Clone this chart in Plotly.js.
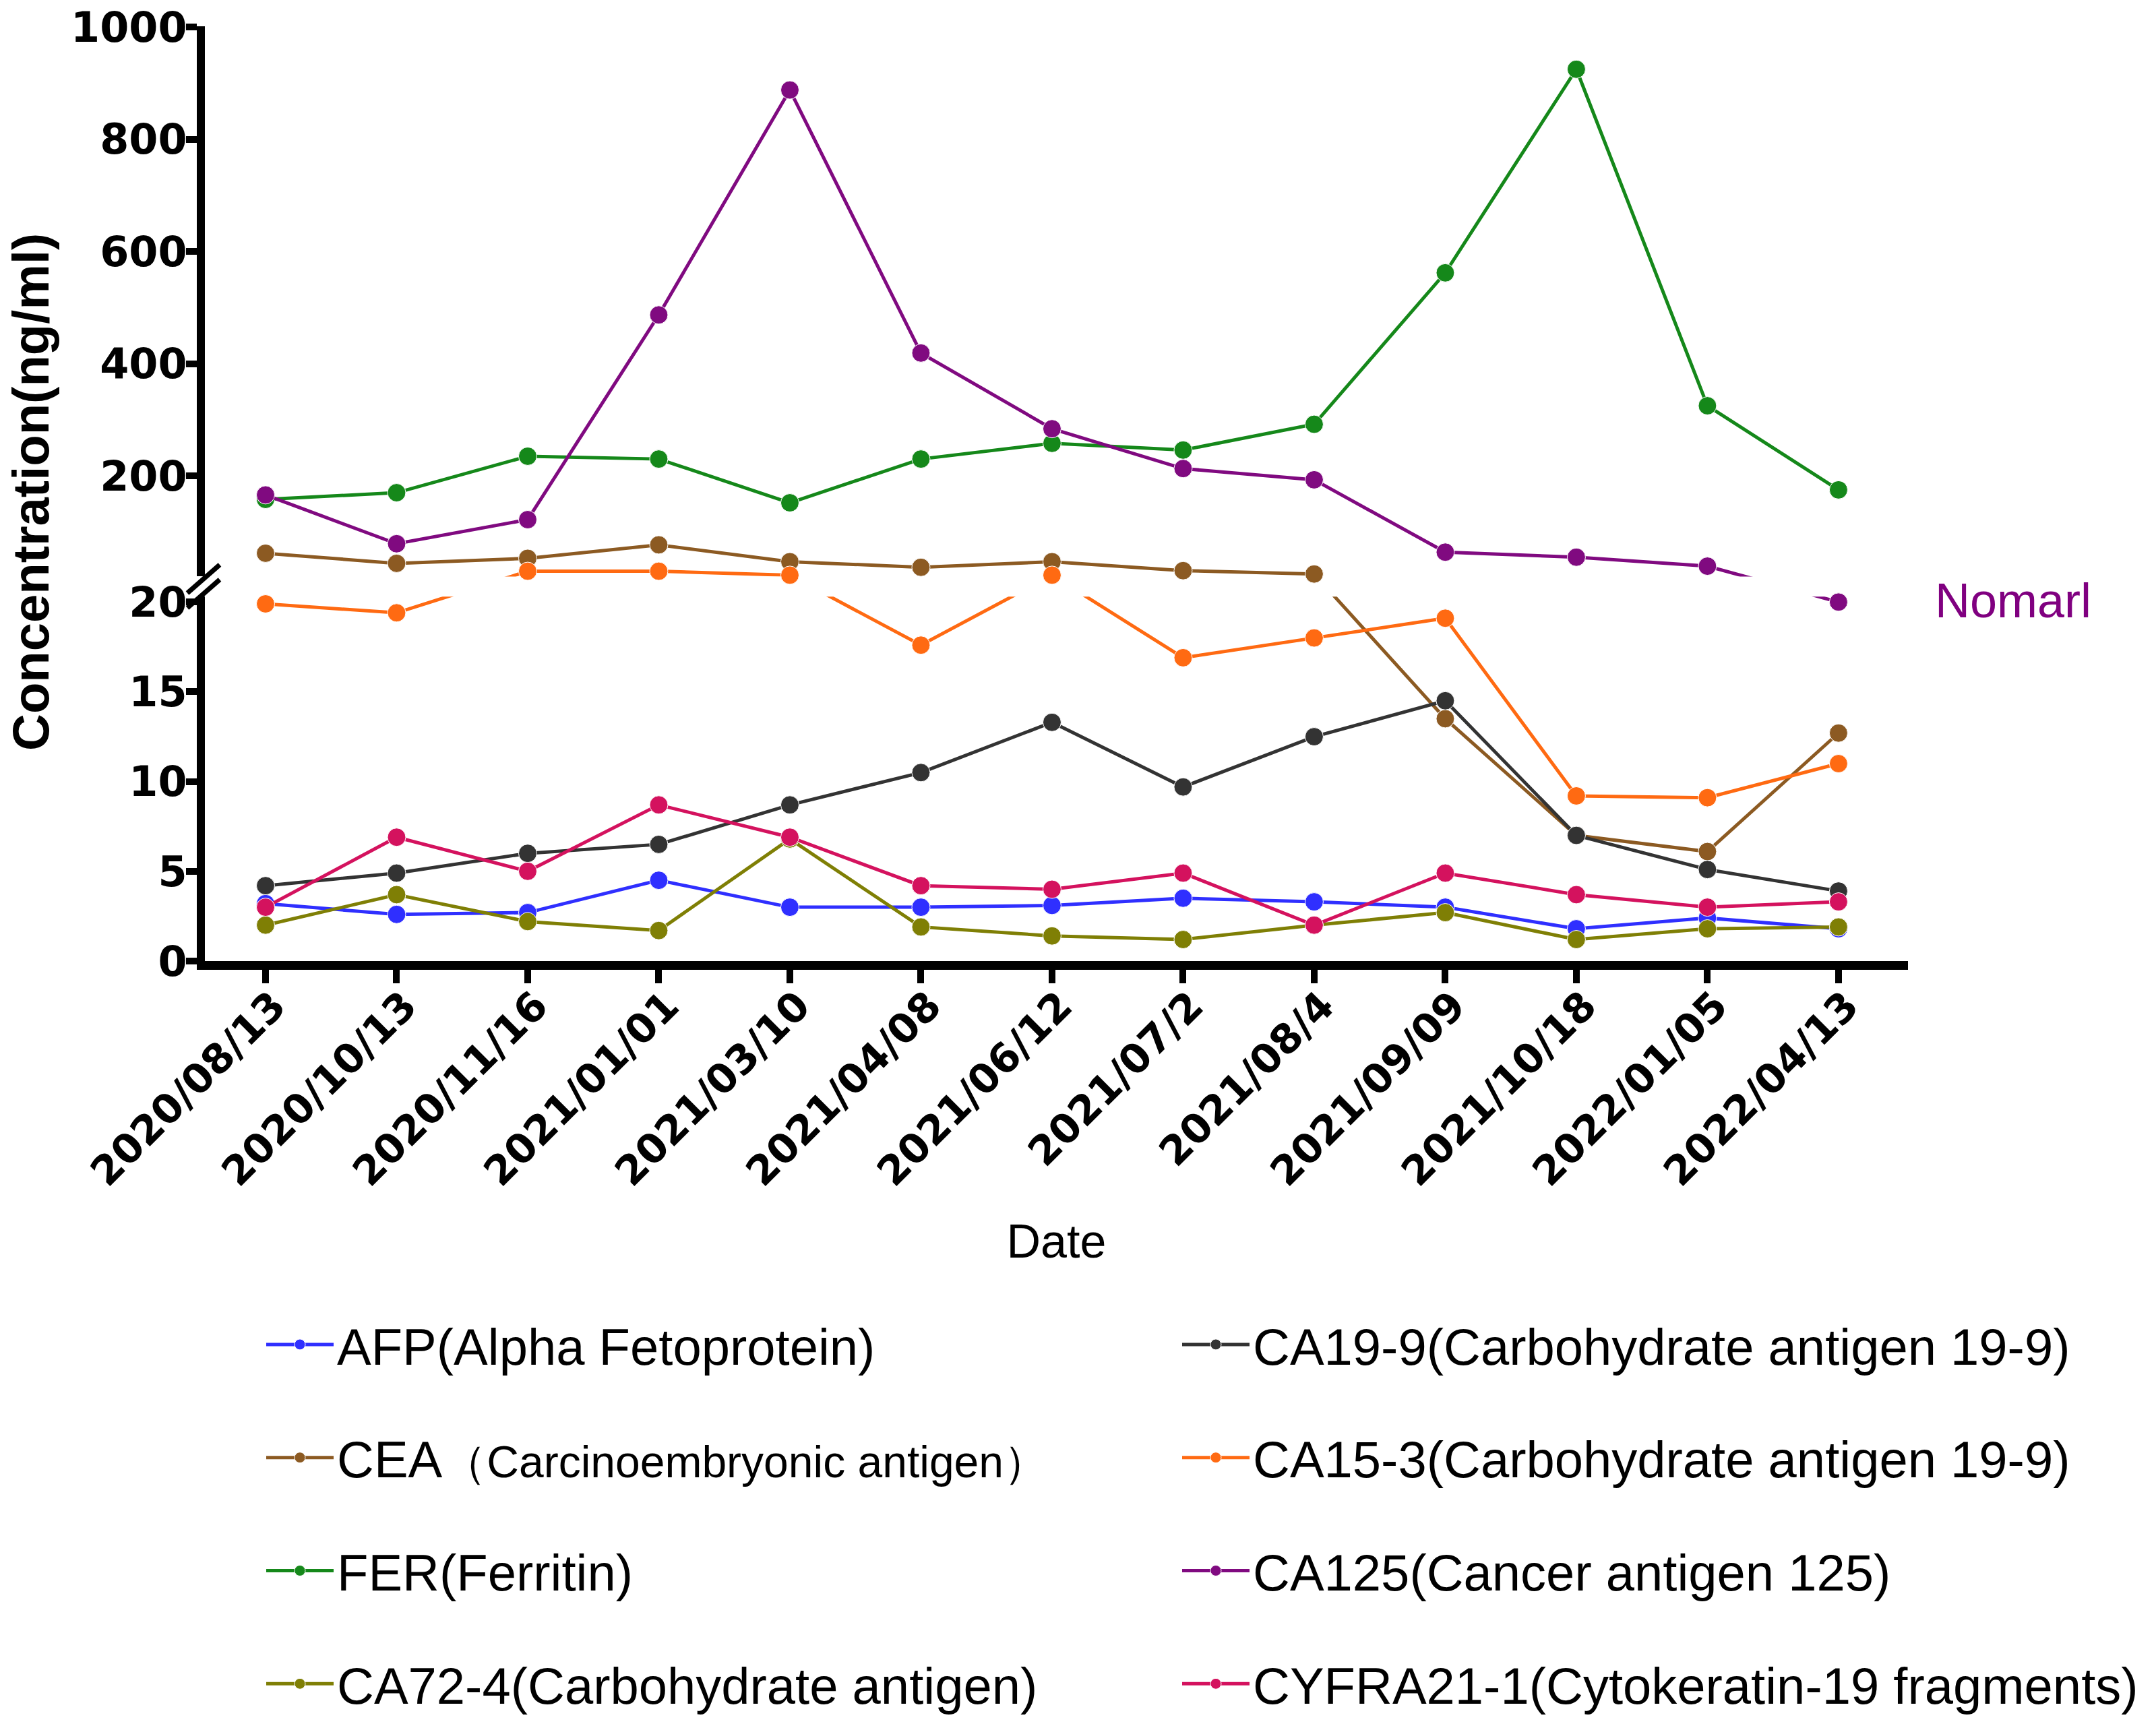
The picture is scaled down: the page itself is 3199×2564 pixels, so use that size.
<!DOCTYPE html>
<html>
<head>
<meta charset="utf-8">
<script src="https://cdn.plot.ly/plotly-3.0.1.min.js"></script>
<style>
html,body{margin:0;padding:0;background:#ffffff;}
#chart{width:3199px;height:2564px;}
</style>
</head>
<body>
<div id="chart"></div>
<script>
// ---------------- data ----------------
const dates = ['2020/08/13','2020/10/13','2020/11/16','2021/01/01','2021/03/10','2021/04/08',
               '2021/06/12','2021/07/2','2021/08/4','2021/09/09','2021/10/18','2022/01/05','2022/04/13'];

const AFP   = [3.2, 2.6, 2.7, 4.5, 3.0, 3.0, 3.1, 3.5, 3.3, 3.0, 1.8, 2.4, 1.8];
const CEA   = [62, 44, 53, 77, 47, 37, 47, 31, 25, 13.5, 7.0, 6.1, 12.7];
const FER   = [158, 170, 235, 230, 152, 230, 258, 246, 292, 562, 925, 325, 175];
const CA724 = [2.0, 3.7, 2.2, 1.7, 6.8, 1.9, 1.4, 1.2, 2.0, 2.7, 1.2, 1.8, 1.9];
const CA199 = [4.2, 4.9, 6.0, 6.5, 8.7, 10.5, 13.3, 9.7, 12.5, 14.5, 7.0, 5.1, 3.9];
const CA153 = [19.9, 19.4, 30, 30, 23, 17.6, 23, 16.9, 18.0, 19.1, 9.2, 9.1, 11.0];
const CA125 = [166, 79, 122, 487, 888, 419, 284, 213, 193, 64, 55, 39, 20.0];
const CYFRA = [3.0, 6.9, 5.0, 8.7, 6.9, 4.2, 4.0, 4.9, 2.0, 4.9, 3.7, 3.0, 3.3];

const names = [
  'AFP(Alpha Fetoprotein)',
  'CEA<span style="font-size:66px">（Carcinoembryonic antigen）</span>',
  'FER(Ferritin)',
  'CA72-4(Carbohydrate antigen)',
  'CA19-9(Carbohydrate antigen 19-9)',
  'CA15-3(Carbohydrate antigen 19-9)',
  'CA125(Cancer antigen 125)',
  'CYFRA21-1(Cytokeratin-19 fragments)'
];
const seriesValues = [AFP, CEA, FER, CA724, CA199, CA153, CA125, CYFRA];
const colors = ['#2f2fff', '#8c5a22', '#15881a', '#7f7f05', '#333333', '#ff6a12', '#800a80', '#d4125e'];
const legendOf = ['legend','legend','legend','legend','legend2','legend2','legend2','legend2'];

const bottomTicks = [0, 5, 10, 15, 20];
const topTicks = [200, 400, 600, 800, 1000];

// ---------------- broken axis geometry ----------------
const BOT_MAX = 20.3;          // top of lower segment
const TOP_MIN = 20.5;          // bottom of upper segment
const PX_BOT = 26.75;          // px per unit, lower segment
const PX_TOP = 0.8372;         // px per unit, upper segment
const GAP_PX = 30;
const GAP_U = GAP_PX / PX_BOT;
const K = PX_TOP / PX_BOT;
function u(v){ return v <= 20.4 ? v : BOT_MAX + GAP_U + (v - TOP_MIN) * K; }
const U_MAX = u(1000);
const U_TOP0 = BOT_MAX + GAP_U;

const MS = 27;
const traces = [];
seriesValues.forEach((vals, i) => {
  const yu = vals.map(u);
  const nTop = vals.filter(v => v > 20.4).length;
  const legendOnTop = nTop > vals.length / 2;
  const common = {
    x: dates, y: yu, mode: 'lines+markers', type: 'scatter',
    line: {color: colors[i], width: 5},
    cliponaxis: false, hoverinfo: 'skip',
    legendgroup: 'g' + i, legend: legendOf[i], name: names[i]
  };
  traces.push(Object.assign({}, common, {
    yaxis: 'y', showlegend: !legendOnTop,
    marker: {color: colors[i], opacity: 1, size: vals.map(v => v <= 20.4 ? MS : 0)}
  }));
  traces.push(Object.assign({}, common, {
    yaxis: 'y2', showlegend: legendOnTop,
    marker: {color: colors[i], opacity: 1, size: vals.map(v => v > 20.4 ? MS : 0)}
  }));
});

const L = 304, R = 2831, T = 39, B = 1426;
const W = 3199, H = 2564;
const plotW = R - L, plotH = B - T;
const px2x = px => (px - L) / plotW;
const py2y = py => (B - py) / plotH;

const tickFontY = {family: 'DejaVu Sans', size: 62, color: '#000', weight: 'bold'};
const tickFontX = {family: 'DejaVu Sans', size: 60, color: '#000', weight: 'bold'};

const legendFont = {family: 'Liberation Sans', size: 76, color: '#000'};

const layout = {
  width: W, height: H,
  margin: {l: L, r: W - R, t: T, b: H - B, pad: 0, autoexpand: false},
  paper_bgcolor: '#ffffff', plot_bgcolor: '#ffffff',
  showlegend: true,
  xaxis: {
    type: 'category', range: [-0.4627, 12.53], anchor: 'y',
    showline: true, linecolor: '#000', linewidth: 13,
    ticks: 'outside', ticklen: 20, tickwidth: 10, tickcolor: '#000',
    tickangle: -45, tickfont: tickFontX, ticklabelstandoff: -26, ticklabelshift: 12,
    showgrid: false, zeroline: false, automargin: false,
    title: {text: 'Date', font: {family: 'Liberation Sans', size: 70, color: '#000'}, standoff: 50}
  },
  yaxis: {
    domain: [0, BOT_MAX / U_MAX], range: [0, BOT_MAX], anchor: 'x',
    showline: true, linecolor: '#000', linewidth: 12,
    ticks: 'outside', ticklen: 16, tickwidth: 10, tickcolor: '#000',
    tickmode: 'array', tickvals: bottomTicks, ticktext: bottomTicks.map(String),
    tickfont: tickFontY, ticklabelstandoff: -14, ticklabeloverflow: 'allow',
    showgrid: false, zeroline: false, automargin: false
  },
  yaxis2: {
    domain: [U_TOP0 / U_MAX, 1], range: [U_TOP0, U_MAX + 0.05], anchor: 'x',
    showline: true, linecolor: '#000', linewidth: 12,
    ticks: 'outside', ticklen: 16, tickwidth: 10, tickcolor: '#000',
    tickmode: 'array', tickvals: topTicks.map(u), ticktext: topTicks.map(String),
    tickfont: tickFontY, ticklabelstandoff: -14, ticklabeloverflow: 'allow',
    showgrid: false, zeroline: false, automargin: false
  },
  legend: {
    x: px2x(390), y: py2y(1939), xanchor: 'left', yanchor: 'top',
    orientation: 'v', bgcolor: 'rgba(0,0,0,0)', borderwidth: 0,
    font: legendFont, tracegroupgap: 66, itemsizing: 'trace', itemwidth: 100
  },
  legend2: {
    x: px2x(1749), y: py2y(1939), xanchor: 'left', yanchor: 'top',
    orientation: 'v', bgcolor: 'rgba(0,0,0,0)', borderwidth: 0,
    font: legendFont, tracegroupgap: 66, itemsizing: 'trace', itemwidth: 100
  },
  annotations: [
    {text: 'Concentration(ng/ml)', xref: 'paper', yref: 'paper', x: px2x(45), y: py2y(730),
     xanchor: 'center', yanchor: 'middle', textangle: -90, showarrow: false,
     font: {family: 'Liberation Sans', size: 76, color: '#000', weight: 'bold'}},
    {text: 'Nomarl', xref: 'paper', yref: 'paper', x: px2x(2987), y: py2y(891),
     xanchor: 'center', yanchor: 'middle', showarrow: false,
     font: {family: 'Liberation Sans', size: 72, color: '#800080'}}
  ],
  shapes: [
    {type: 'line', xref: 'paper', yref: 'paper', x0: px2x(278), y0: py2y(880), x1: px2x(326), y1: py2y(838),
     line: {color: '#000', width: 7}},
    {type: 'line', xref: 'paper', yref: 'paper', x0: px2x(278), y0: py2y(902), x1: px2x(326), y1: py2y(860),
     line: {color: '#000', width: 7}}
  ]
};

Plotly.newPlot('chart', traces, layout, {displayModeBar: false, staticPlot: true});
</script>
</body>
</html>
